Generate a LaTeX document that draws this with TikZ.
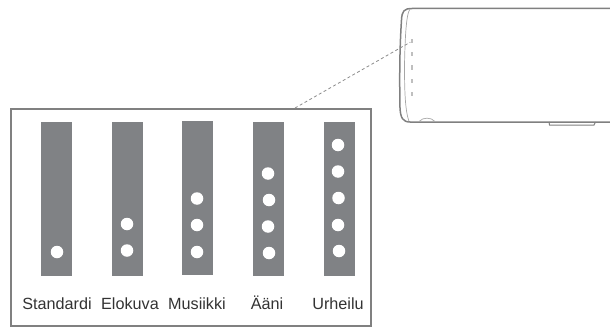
\documentclass[tikz,border=0pt]{standalone}
\usepackage{fontspec}
\setmainfont{Liberation Sans}
\usetikzlibrary{positioning}

\begin{document}
\begin{tikzpicture}[
        x=1pt,y=-1pt,
        modebar/.style={fill=bargray,draw=none,minimum width=31pt,minimum height=154pt,inner sep=0pt,outer sep=0pt},
        led/.style={circle,fill=white,draw=none,minimum size=12.5pt,inner sep=0pt},
        modelabel/.style={text=black!80,font=\fontsize{16.2}{18}\selectfont,inner sep=0pt,anchor=base},
        tinyled/.style={fill=black!25,draw=none,minimum width=2pt,minimum height=4pt,inner sep=0pt},
        outline/.style={draw=black!50,line width=1.3pt}
    ]
    \definecolor{bargray}{RGB}{128,130,133}
    \useasboundingbox (0,0) rectangle (610,329);

    % Soundbar seen from above
    \draw[outline,line width=1.5pt] (610,8.5) -- (412,8.5)
        .. controls (404,8.5) and (402,11) .. (401.5,20)
        .. controls (399.5,50) and (399.5,80) .. (400,108)
        .. controls (400.5,118) and (403,122) .. (410,122) -- (610,122);
    \draw[black!35,line width=0.7pt] (410,9) .. controls (406,14) and (405,40) .. (404.5,65)
        .. controls (404.5,90) and (405,110) .. (409,121.5);
    \draw[black!35,line width=0.7pt] (419,121.5) .. controls (423,117) and (431,117) .. (435,121.5);
    \draw[black!50,line width=1pt] (549,122) -- (549.5,125) -- (594,125) -- (595.5,122);

    % Lights on the soundbar
    \node[tinyled] (top1) at (411.5,41.5) {};
    \node[tinyled] (top2) at (411.5,54.5) {};
    \node[tinyled] (top3) at (411.5,67.5) {};
    \node[tinyled] (top4) at (411.5,81) {};
    \node[tinyled] (top5) at (411.5,94) {};

    % Frame with the five modes
    \node[outline,line width=2pt,fill=white,minimum width=360pt,minimum height=216.5pt,inner sep=0pt] (frame) at (190.5,217.5) {};
    \coordinate (framelink) at (295,108);
    \draw[black!45,line width=0.8pt,dash pattern=on 3pt off 2.5pt] (framelink) -- (top1);

    % Standardi
    \node[modebar] (bar1) at (56.5,199) {};
    \node[led] (led11) at (57,252) {};
    \node[modelabel] (text1) at (57,309) {Standardi};

    % Elokuva
    \node[modebar] (bar2) at (127.5,199) {};
    \node[led] (led21) at (127,250.5) {};
    \node[led] (led22) at (127,224) {};
    \node[modelabel] (text2) at (130,309) {Elokuva};

    % Musiikki
    \node[modebar] (bar3) at (197.5,198) {};
    \node[led] (led31) at (197,252) {};
    \node[led] (led32) at (197,225) {};
    \node[led] (led33) at (197,198.5) {};
    \node[modelabel] (text3) at (197,309) {Musiikki};

    % Aani
    \node[modebar] (bar4) at (268.5,199) {};
    \node[led] (led41) at (269,253) {};
    \node[led] (led42) at (268,226.5) {};
    \node[led] (led43) at (269,200) {};
    \node[led] (led44) at (268,173.5) {};
    \node[modelabel] (text4) at (267,309) {Ääni};

    % Urheilu
    \node[modebar] (bar5) at (339.5,199) {};
    \node[led] (led51) at (339,251) {};
    \node[led] (led52) at (338,225) {};
    \node[led] (led53) at (338.5,198) {};
    \node[led] (led54) at (338,171.5) {};
    \node[led] (led55) at (338,145) {};
    \node[modelabel] (text5) at (338,309) {Urheilu};

\end{tikzpicture}
\end{document}
